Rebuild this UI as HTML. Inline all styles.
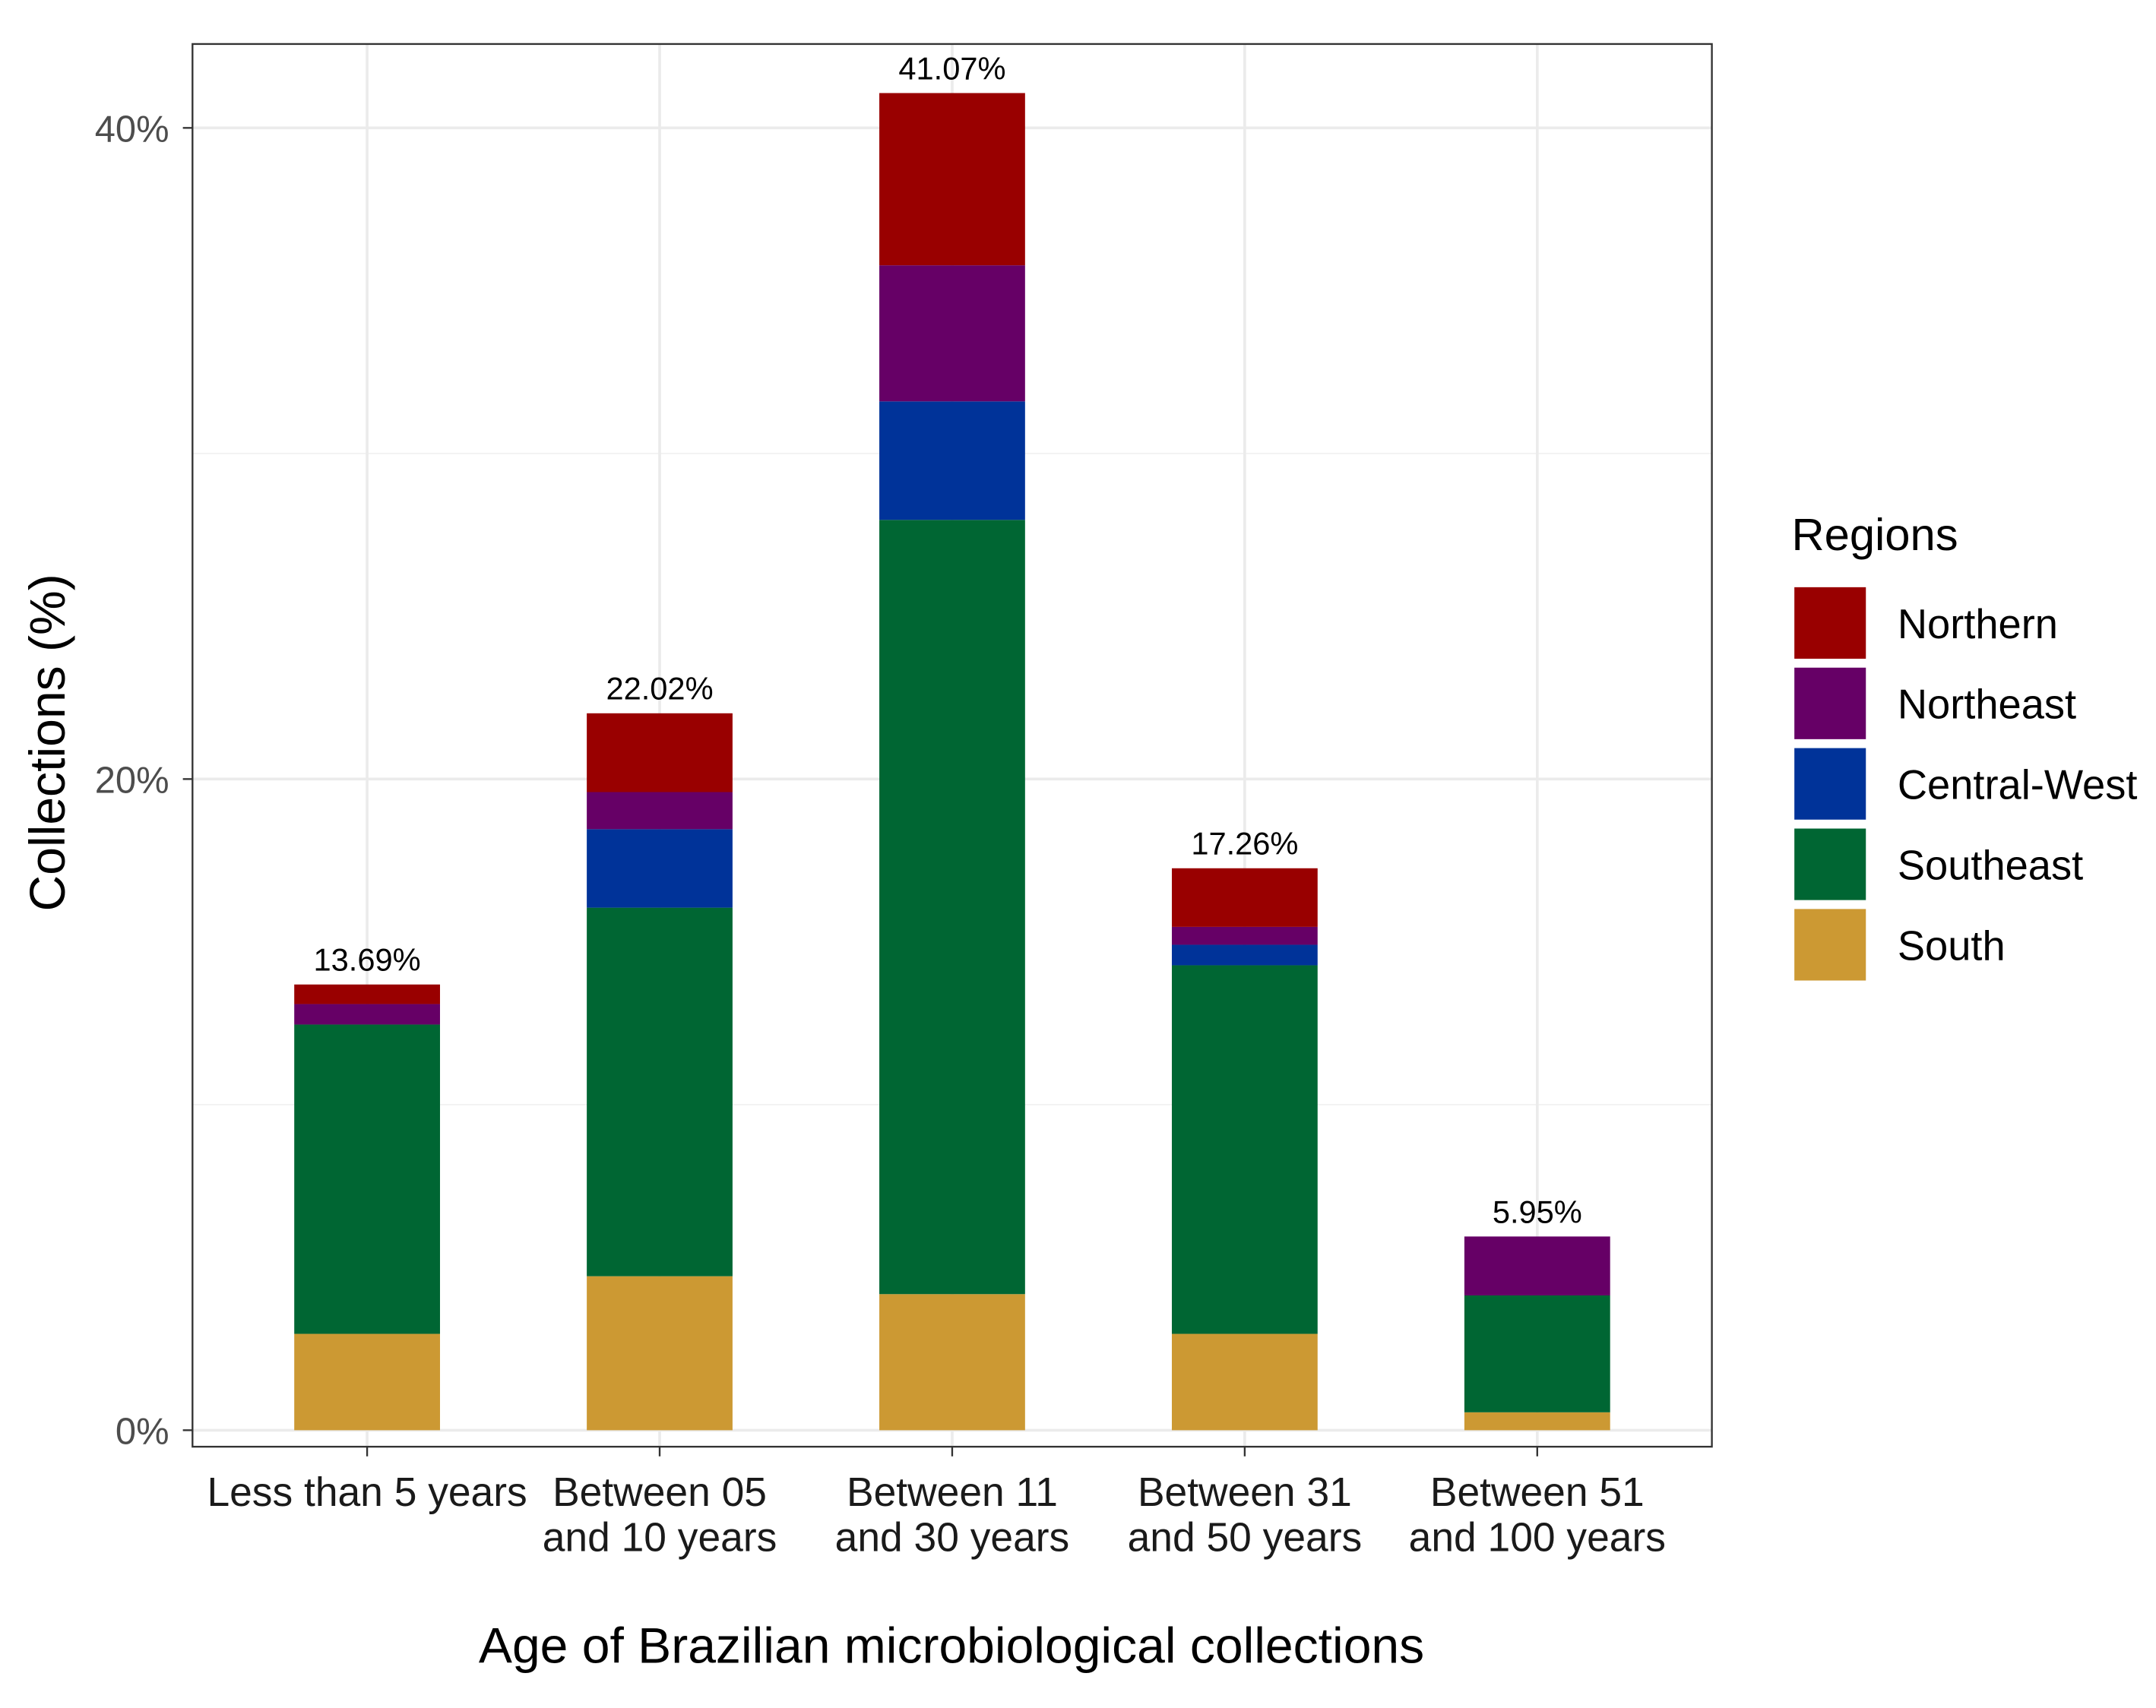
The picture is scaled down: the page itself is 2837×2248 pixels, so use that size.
<!DOCTYPE html>
<html><head><meta charset="utf-8"><style>
html,body{margin:0;padding:0;background:#fff;}
svg{display:block;font-family:"Liberation Sans",Arial,sans-serif;}
</style></head><body>
<svg id="chart" width="2837" height="2248" viewBox="0 0 1568 1242" preserveAspectRatio="none" xmlns="http://www.w3.org/2000/svg">
<rect x="0" y="0" width="1568" height="1242" fill="#fff"/>
<g id="grid"></g>
<g id="bars"></g>
<rect x="140" y="32" width="1105" height="1020" fill="none" stroke="#333" stroke-width="1.3"/>
<g id="axes"></g>
<text x="692" y="1209" font-size="36.5" text-anchor="middle" fill="#000">Age of Brazilian microbiological collections</text>
<text transform="translate(47,540) rotate(-90)" font-size="36.5" text-anchor="middle" fill="#000">Collections (%)</text>
<g id="legend">
<text x="1303" y="400" font-size="33" fill="#000">Regions</text>
</g>
</svg>
<script>
const categories = ["Less than 5 years|", "Between 05|and 10 years", "Between 11|and 30 years", "Between 31|and 50 years", "Between 51|and 100 years"];
const regions = ["South", "Southeast", "Central-West", "Northeast", "Northern"];
const south = [2.96, 4.73, 4.18, 2.96, 0.55];
const southeast = [9.50, 11.32, 23.78, 11.32, 3.59];
const centralWest = [0, 2.41, 3.64, 0.63, 0];
const northeast = [0.63, 1.14, 4.18, 0.55, 1.81];
const northern = [0.60, 2.42, 5.29, 1.80, 0];
const totalLabels = ["13.69%", "22.02%", "41.07%", "17.26%", "5.95%"];
const yTicks = [0, 20, 40];
const yMinor = [10, 30];
const legendOrder = ["Northern", "Northeast", "Central-West", "Southeast", "South"];

const colors = {"South":"#CC9933","Southeast":"#006633","Central-West":"#003399","Northeast":"#660066","Northern":"#990000"};
const series = [south, southeast, centralWest, northeast, northern];
const NS = "http://www.w3.org/2000/svg";
const y = v => 1040 - v * 23.675;
const x = i => 267 + i * 212.75;
const bw = 106;
function mk(tag, attrs, parent, txt){const e=document.createElementNS(NS,tag);for(const k in attrs)e.setAttribute(k,attrs[k]);if(txt!==undefined)e.textContent=txt;parent.appendChild(e);return e;}
const grid=document.getElementById('grid'), bars=document.getElementById('bars'), axes=document.getElementById('axes'), legend=document.getElementById('legend');
yMinor.forEach(v=>{const l=mk('line',{x1:140,x2:1245,y1:y(v),y2:y(v),stroke:'#f2f2f2','stroke-width':1},grid);

});
yTicks.forEach(v=>{const l=mk('line',{x1:140,x2:1245,y1:y(v),y2:y(v),stroke:'#ebebeb','stroke-width':2},grid);


const t=mk('line',{x1:133,x2:140,y1:y(v),y2:y(v),stroke:'#333','stroke-width':1.3},axes);


const tx=mk('text',{x:123,y:y(v)+10,'font-size':27,'text-anchor':'end',fill:'#4d4d4d'},axes,v+'%');

});
categories.forEach((c,i)=>{
const g=mk('line',{x1:x(i),x2:x(i),y1:32,y2:1052,stroke:'#ebebeb','stroke-width':2},grid);


let acc=0;
series.forEach((s,k)=>{ if(s[i]>0){const r=mk('rect',{x:x(i)-bw/2,y:y(acc+s[i]),width:bw,height:y(acc)-y(acc+s[i]),fill:colors[regions[k]]},bars);

} acc+=s[i];});
const lab=mk('text',{x:x(i),y:y(acc)-10,'font-size':23,'text-anchor':'middle',fill:'#000'},bars,totalLabels[i]);


const t=mk('line',{x1:x(i),x2:x(i),y1:1052,y2:1059,stroke:'#333','stroke-width':1.3},axes);


const parts=c.split('|');
parts.forEach((p,j)=>{ if(p){const tx=mk('text',{x:x(i),y:1095+j*33,'font-size':29.5,'text-anchor':'middle',fill:'#1a1a1a'},axes,p);

}});
});
legendOrder.forEach((r,j)=>{
const yy=427+j*58.5;
const k=mk('rect',{x:1305,y:yy,width:52,height:52,fill:colors[r]},legend);


const t=mk('text',{x:1380,y:yy+37,'font-size':30,fill:'#000'},legend,r);


});
</script>
</body></html>
